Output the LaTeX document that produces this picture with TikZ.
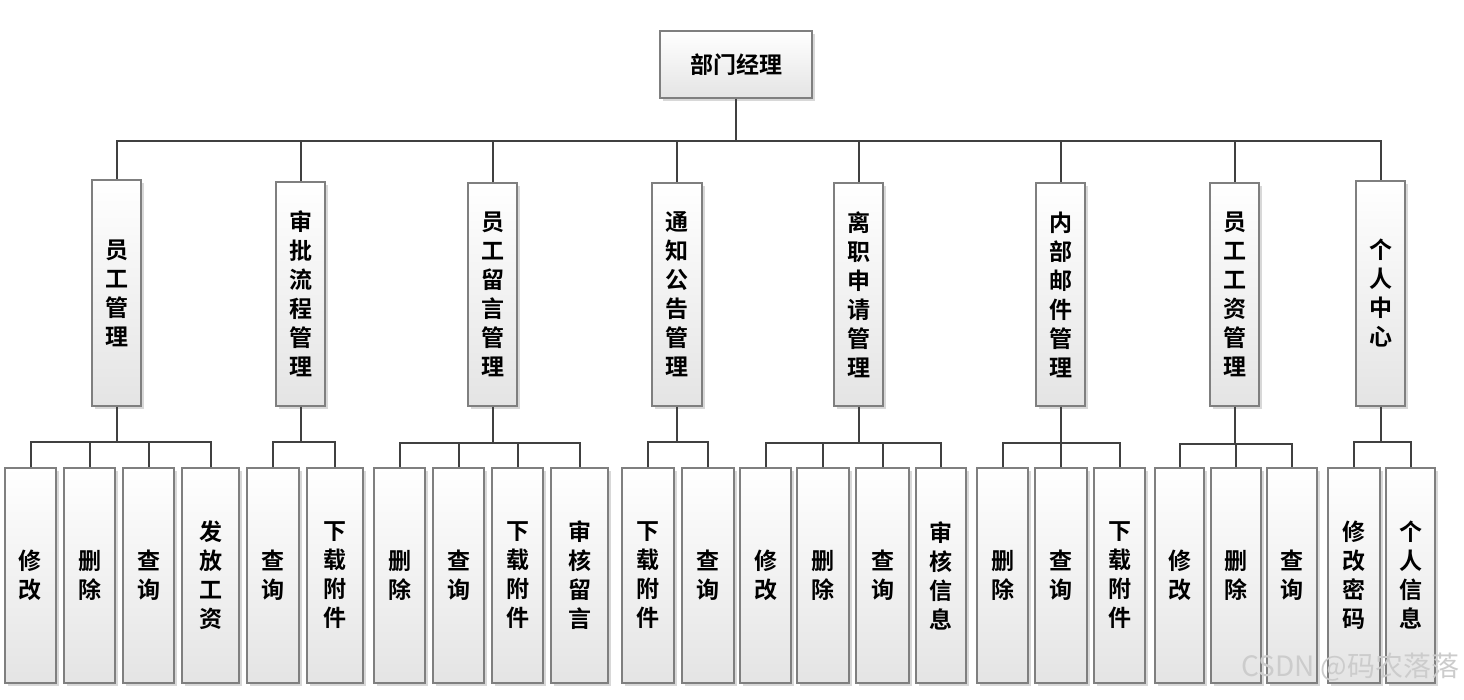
\documentclass[tikz,border=0pt]{standalone}
\usepackage{fontspec}
\newfontfamily\cjk{Noto Sans CJK SC}[BoldFont={Noto Sans CJK SC Bold}]
\usetikzlibrary{shadows}
\definecolor{linegray}{HTML}{404040}
\definecolor{edgegray}{HTML}{7F7F7F}
\definecolor{fillgray}{HTML}{E4E4E4}
\tikzset{
  funcbox/.style={draw=edgegray, line width=1.3pt, top color=white, bottom color=fillgray,
    inner sep=0pt, align=center, font=\cjk\bfseries\fontsize{23}{29}\selectfont,
    drop shadow={shadow xshift=3pt, shadow yshift=-3pt, fill=black!30, opacity=0.5}},
  link/.style={draw=linegray, line width=2pt},
}
% module: name, left, right, top, text
\newcommand{\module}[5]{%
  \node[funcbox, minimum width={#3-#2}, minimum height={406-#4}] (#1) at ({(#2+#3)/2},{(406+#4)/2}) {#5};
}
% leaf: name, left, right, text
\newcommand{\leaf}[4]{%
  \node[funcbox, minimum width={#3-#2}, minimum height=215] (#1) at ({(#2+#3)/2},575.5) {#4};
}
% branch: parent, drop, children
\newcommand{\branch}[3]{%
  \path (#1.south) ++(0,#2) coordinate (#1-bus);
  \draw[link] (#1.south) -- (#1-bus);
  \foreach \c in {#3} \draw[link] (#1-bus) -| (\c.north);
}

\begin{document}
\begin{tikzpicture}[x=1pt,y=-1pt]
  \useasboundingbox (0,0) rectangle (1464,699);
  %root
  \node[funcbox, minimum width=152, minimum height=67] (root) at (736,64.5) {部门经理};
  %modules
  \module{m1}{92}{141}{180}{员\\工\\管\\理}
  \module{m2}{276}{325}{182}{审\\批\\流\\程\\管\\理}
  \module{m3}{468}{517}{183}{员\\工\\留\\言\\管\\理}
  \module{m4}{652}{702}{183}{通\\知\\公\\告\\管\\理}
  \module{m5}{834}{883}{183}{离\\职\\申\\请\\管\\理}
  \module{m6}{1036}{1085}{183}{内\\部\\邮\\件\\管\\理}
  \module{m7}{1210}{1259}{183}{员\\工\\工\\资\\管\\理}
  \module{m8}{1356}{1405}{181}{个\\人\\中\\心}
  %employee management
  \leaf{a1}{5}{56}{修\\改}
  \leaf{a2}{64}{115}{删\\除}
  \leaf{a3}{123}{174}{查\\询}
  \leaf{a4}{182}{239}{发\\放\\工\\资}
  %approval flow
  \leaf{b1}{247}{299}{查\\询}
  \leaf{b2}{307}{363}{下\\载\\附\\件}
  %messages
  \leaf{c1}{374}{425}{删\\除}
  \leaf{c2}{433}{484}{查\\询}
  \leaf{c3}{492}{543}{下\\载\\附\\件}
  \leaf{c4}{551}{608}{审\\核\\留\\言}
  %notices
  \leaf{d1}{622}{674}{下\\载\\附\\件}
  \leaf{d2}{682}{734}{查\\询}
  %resignation
  \leaf{e1}{740}{791}{修\\改}
  \leaf{e2}{797}{849}{删\\除}
  \leaf{e3}{856}{909}{查\\询}
  \leaf{e4}{916}{966}{审\\核\\信\\息}
  %internal mail
  \leaf{f1}{977}{1028}{删\\除}
  \leaf{f2}{1035}{1087}{查\\询}
  \leaf{f3}{1094}{1145}{下\\载\\附\\件}
  %salary
  \leaf{g1}{1155}{1204}{修\\改}
  \leaf{g2}{1211}{1261}{删\\除}
  \leaf{g3}{1267}{1317}{查\\询}
  %personal centre
  \leaf{h1}{1328}{1380}{修\\改\\密\\码}
  \leaf{h2}{1386}{1435}{个\\人\\信\\息}
  %connectors
  \branch{root}{42}{m1,m2,m3,m4,m5,m6,m7,m8}
  \branch{m1}{35}{a1,a2,a3,a4}
  \branch{m2}{35}{b1,b2}
  \branch{m3}{36}{c1,c2,c3,c4}
  \branch{m4}{35}{d1,d2}
  \branch{m5}{36}{e1,e2,e3,e4}
  \branch{m6}{36}{f1,f2,f3}
  \branch{m7}{37}{g1,g2,g3}
  \branch{m8}{35}{h1,h2}
  %watermark
  \node[text=black!20, font=\cjk\fontsize{28}{28}\selectfont, anchor=east] (mark) at (1463,667) {CSDN @码农落落};
\end{tikzpicture}
\end{document}
